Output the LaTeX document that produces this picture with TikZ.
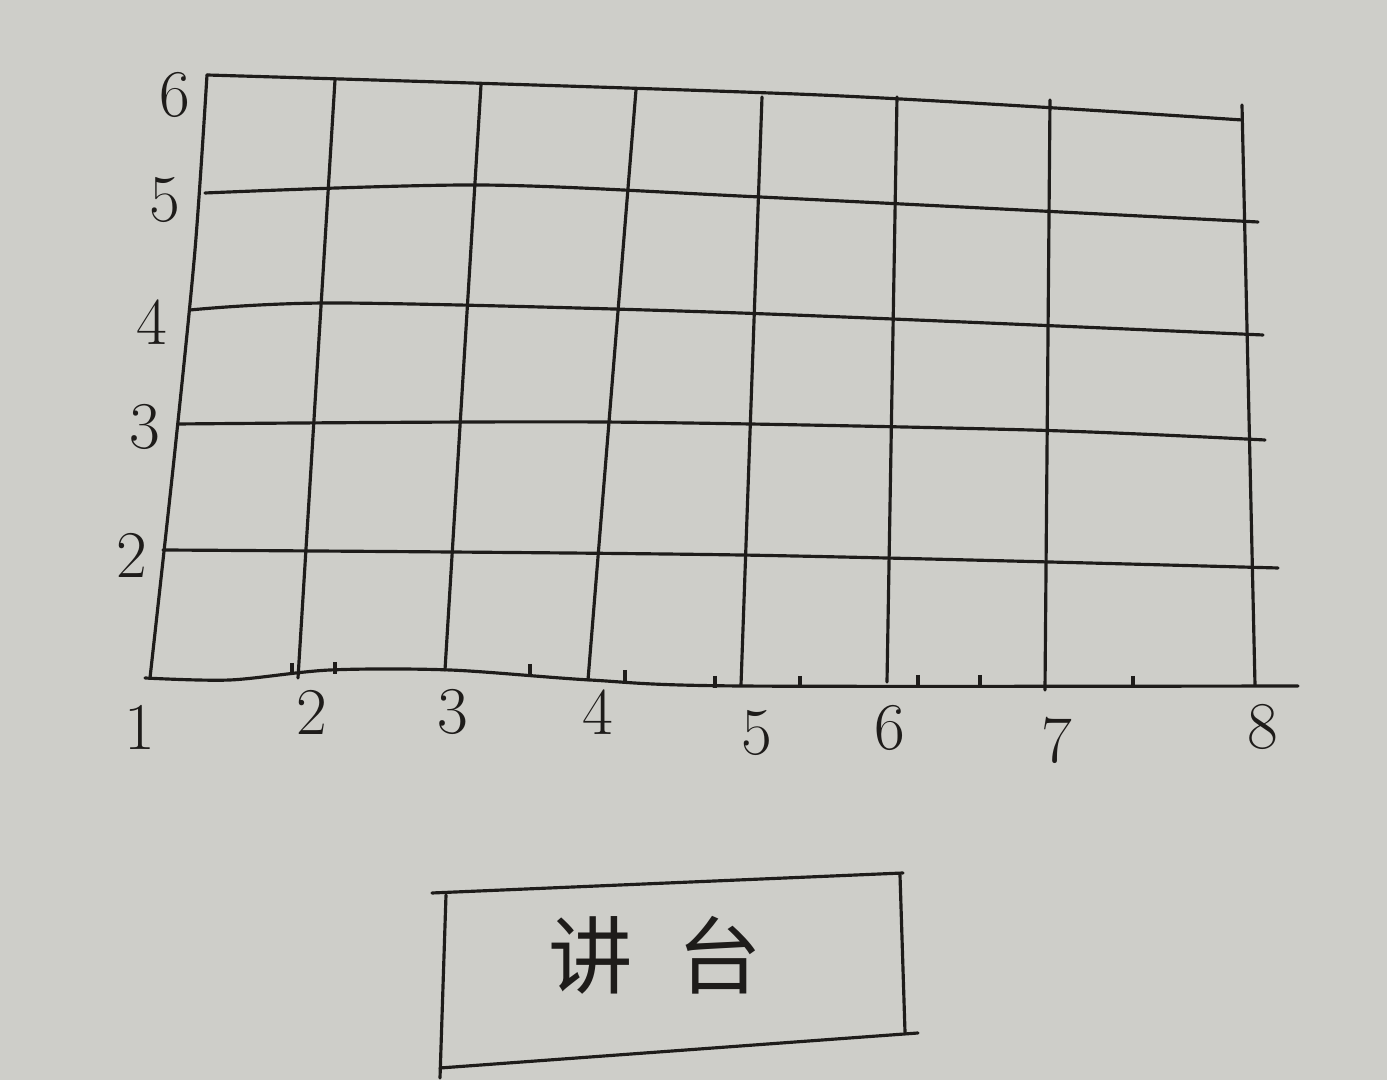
\documentclass[tikz,border=0pt]{standalone}
\usepackage{fontspec}
\newfontfamily\cjkfont{Noto Sans CJK SC}
\usetikzlibrary{positioning}
\definecolor{paper}{RGB}{206,206,201}
\definecolor{ink}{RGB}{30,28,26}

\begin{document}
\begin{tikzpicture}[x=0.01cm, y=-0.01cm,
			gridline/.style={draw=ink, line width=0.9pt, line cap=round, line join=round},
			tickmark/.style={draw=ink, line width=0.9pt},
			numlabel/.style={text=ink, inner sep=0pt, font=\fontsize{19}{22}\selectfont},
			podiumtext/.style={text=ink, inner sep=0pt, font=\cjkfont\fontsize{24}{28}\selectfont}]
			\fill[paper] (0,0) rectangle (1387,1080);
			\useasboundingbox (0,0) rectangle (1387,1080);
			
			% rows
			\draw[gridline] plot[smooth] coordinates {(207,75) (820,95) (1242,120)};
			\draw[gridline] plot[smooth] coordinates {(205,193) (480,185) (760,197) (1258,222)};
			\draw[gridline] plot[smooth] coordinates {(190,310) (340,303) (740,313) (1263,335)};
			\draw[gridline] plot[smooth] coordinates {(178,424) (600,422) (1030,430) (1265,440)};
			\draw[gridline] plot[smooth] coordinates {(163,550) (740,555) (1278,568)};
			\draw[gridline] plot[smooth] coordinates {(145,678) (230,680) (330,670) (450,670) (590,680) (740,686) (1298,686)};
			
			% columns
			\draw[gridline] plot[smooth] coordinates {(207,75) (195,250) (175,450) (150,678)};
			\draw[gridline] (335,80) -- (298,678);
			\draw[gridline] (481,85) -- (445,670);
			\draw[gridline] (636,90) -- (588,680);
			\draw[gridline] (762,97) -- (741,685);
			\draw[gridline] (897,97) -- (887,682);
			\draw[gridline] (1050,100) -- (1045,690);
			\draw[gridline] (1242,105) -- (1255,685);
			
			% ticks on the front line
			\foreach \tx/\ty in {292/671, 335/670, 530/672, 625/678, 715/684, 800/684, 918/683, 980/683, 1133/684}
				\draw[tickmark] (\tx,\ty-8) -- (\tx,\ty+4);
			
			% column numbers
			\node[numlabel] (col1) at (140,727) {1};
			\node[numlabel] (col2) at (312,712) {2};
			\node[numlabel] (col3) at (453,712) {3};
			\node[numlabel] (col4) at (598,712) {4};
			\node[numlabel] (col5) at (757,733) {5};
			\node[numlabel] (col6) at (890,728) {6};
			\node[numlabel] (col7) at (1057,740) {7};
			\node[numlabel] (col8) at (1263,727) {8};
			
			% row numbers
			\node[numlabel] (row2) at (132,555) {2};
			\node[numlabel] (row3) at (145,427) {3};
			\node[numlabel] (row4) at (152,322) {4};
			\node[numlabel] (row5) at (165,200) {5};
			\node[numlabel] (row6) at (175,95) {6};
			
			% podium
			\node[podiumtext] (podium) at (655,955) {讲\hspace{0.45cm}台};
			\draw[gridline] (432,893) -- (903,873);
			\draw[gridline] (900,875) -- (905,1032);
			\draw[gridline] (918,1033) -- (440,1068);
			\draw[gridline] (446,895) -- (440,1078);
			\end{tikzpicture}
\end{document}
